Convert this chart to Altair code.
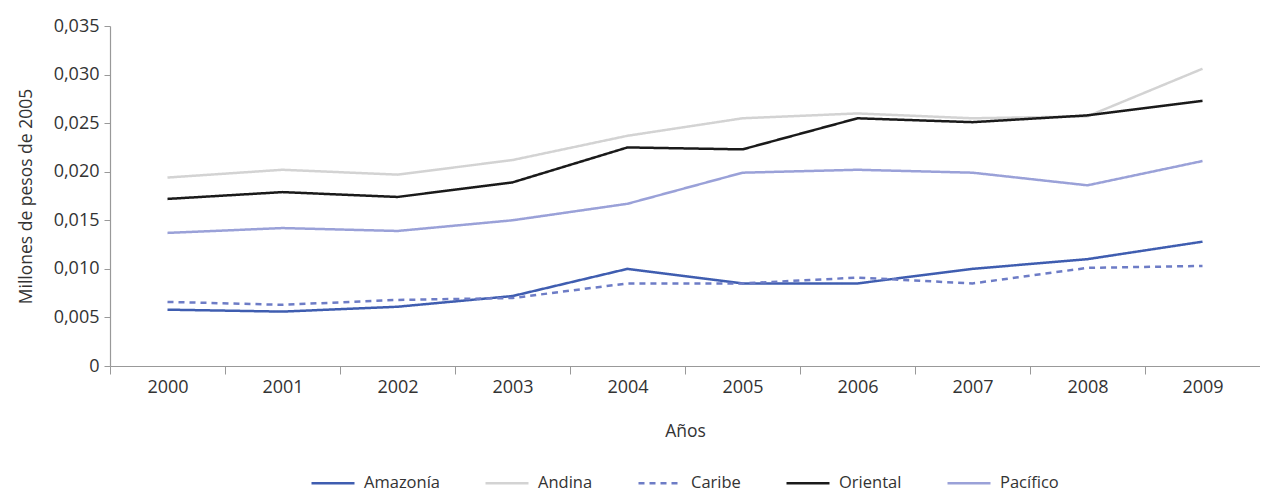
import altair as alt
import pandas as pd

years = ["2000", "2001", "2002", "2003", "2004", "2005", "2006", "2007", "2008", "2009"]
regions = ["Amazonía", "Andina", "Caribe", "Oriental", "Pacífico"]
amazonia = [0.0058, 0.0056, 0.0061, 0.0072, 0.0100, 0.0085, 0.0085, 0.0100, 0.0110, 0.0128]
andina = [0.0194, 0.0202, 0.0197, 0.0212, 0.0237, 0.0255, 0.0260, 0.0255, 0.0257, 0.0306]
caribe = [0.0066, 0.0063, 0.0068, 0.0070, 0.0085, 0.0085, 0.0091, 0.0085, 0.0101, 0.0103]
oriental = [0.0172, 0.0179, 0.0174, 0.0189, 0.0225, 0.0223, 0.0255, 0.0251, 0.0258, 0.0273]
pacifico = [0.0137, 0.0142, 0.0139, 0.0150, 0.0167, 0.0199, 0.0202, 0.0199, 0.0186, 0.0211]
colors = ["#3f5db0", "#d3d3d3", "#6d7cc6", "#1a1a1a", "#9aa1d8"]
dashes = [[1, 0], [1, 0], [6, 5], [1, 0], [1, 0]]
y_ticks = [0, 0.005, 0.01, 0.015, 0.02, 0.025, 0.03, 0.035]

series = [amazonia, andina, caribe, oriental, pacifico]
rows = []
for r, vals in zip(regions, series):
    for yr, v in zip(years, vals):
        rows.append({"year": yr, "value": v, "region": r})
df = pd.DataFrame(rows)

FONT = "Open Sans"

chart = alt.Chart(df).mark_line(strokeWidth=2.5).encode(
    x=alt.X("year:O", bandPosition=0.5,
            scale=alt.Scale(type="band", paddingInner=0, paddingOuter=0),
            axis=alt.Axis(title="Años", labelAngle=0, tickBand="extent",
                          labelPadding=4, tickSize=8, titlePadding=26)),
    y=alt.Y("value:Q", scale=alt.Scale(domain=[0, 0.035], nice=False),
            axis=alt.Axis(title="Millones de pesos de 2005", values=y_ticks, grid=False,
                          labelExpr="datum.value == 0 ? '0' : replace(format(datum.value, '.3f'), '.', ',')",
                          tickSize=6, labelPadding=5, titlePadding=18)),
    color=alt.Color("region:N", scale=alt.Scale(domain=regions, range=colors),
                    legend=alt.Legend(title=None, orient="none", direction="horizontal",
                                      legendX=200, legendY=434, symbolType="stroke",
                                      symbolSize=1849, symbolStrokeWidth=2.5,
                                      columnPadding=40, labelOffset=8)),
    strokeDash=alt.StrokeDash("region:N", scale=alt.Scale(domain=regions, range=dashes),
                              legend=None),
).properties(
    width=1150, height=340,
    autosize=alt.AutoSizeParams(type="none"),
    padding={"left": 102, "top": 18, "right": 0, "bottom": 130},
).configure_view(stroke=None).configure_axis(
    labelFont=FONT, titleFont=FONT, labelFontSize=18, titleFontSize=17.5,
    labelColor="#333333", titleColor="#333333", titleFontWeight="normal",
    domainColor="#999999", tickColor="#999999", domainWidth=1.2,
).configure_legend(
    labelFont=FONT, labelFontSize=16.5, labelColor="#333333",
)

chart.save("out.html", embed_options={"renderer": "svg", "actions": False})
